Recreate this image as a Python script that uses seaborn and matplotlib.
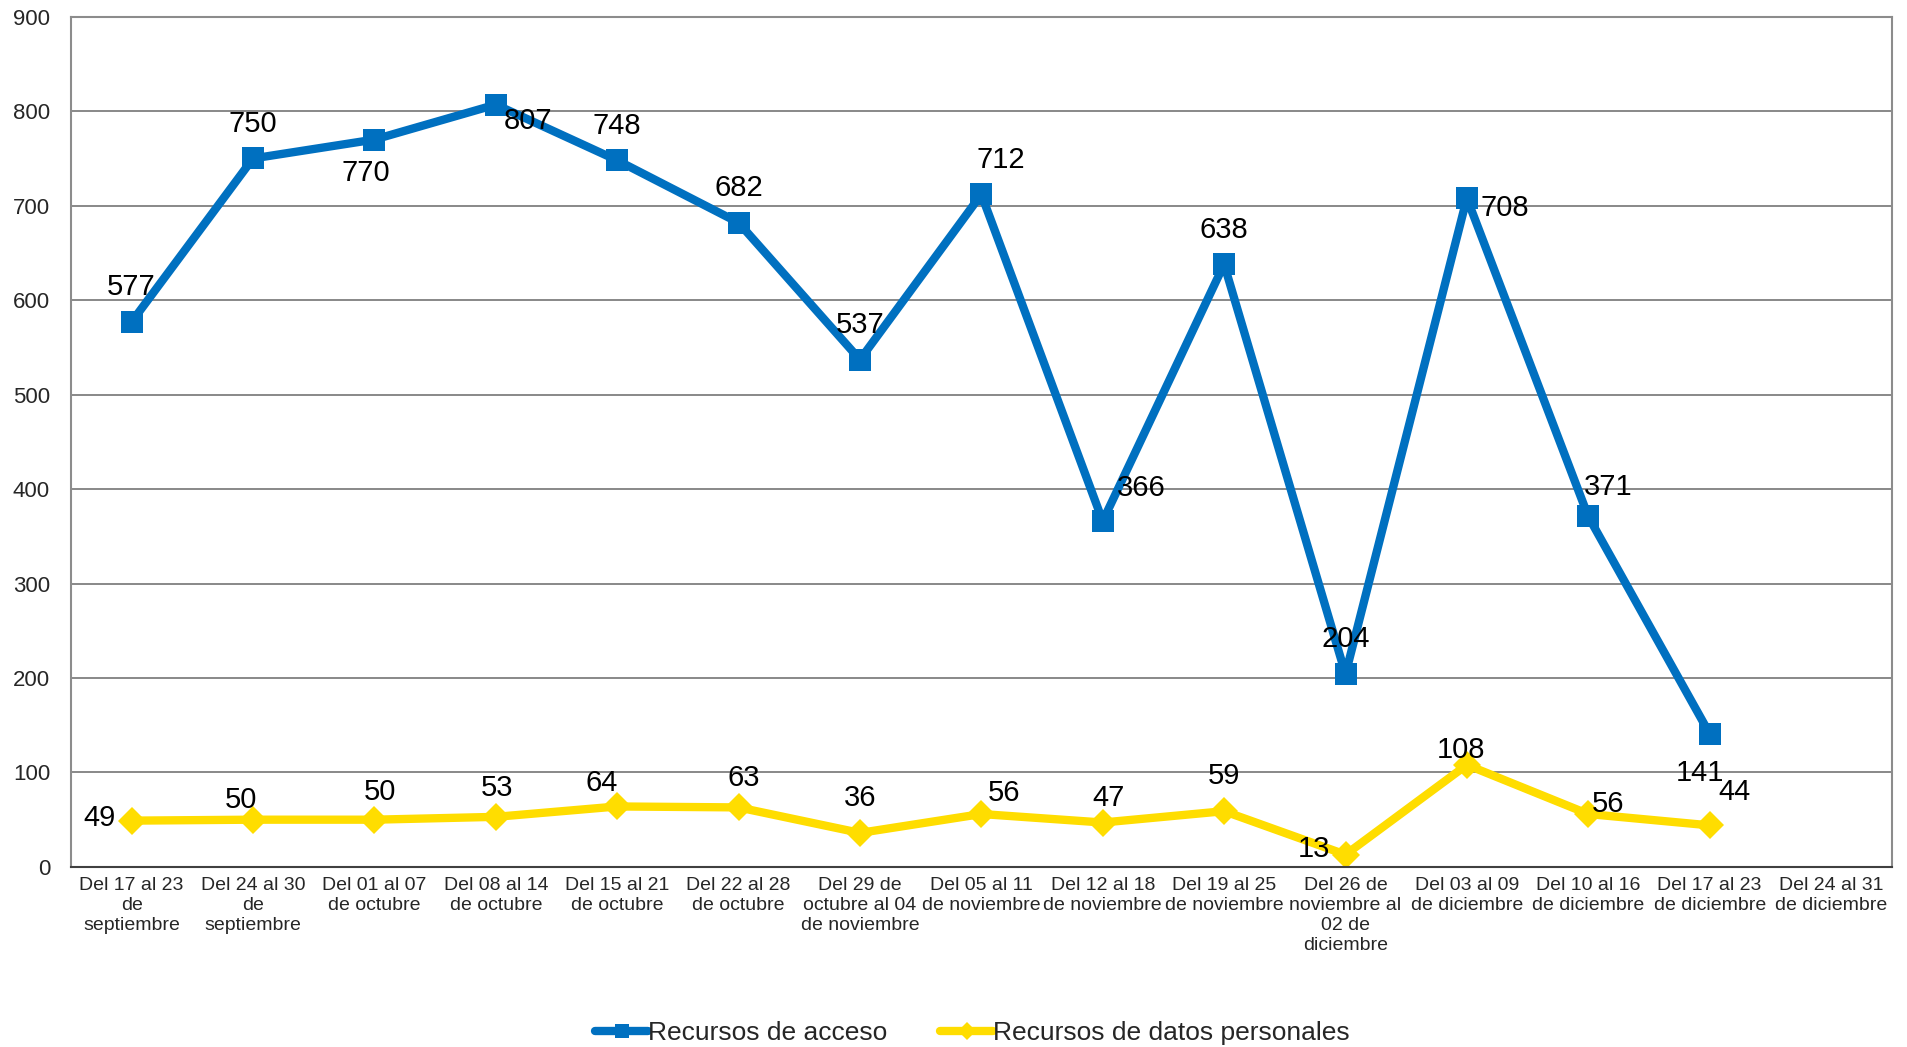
import numpy as np
import pandas as pd
import matplotlib
matplotlib.use("Agg")
import matplotlib.pyplot as plt
import seaborn as sns

# Data
semanas = [
    "Del 17 al 23\nde\nseptiembre", "Del 24 al 30\nde\nseptiembre",
    "Del 01 al 07\nde octubre", "Del 08 al 14\nde octubre",
    "Del 15 al 21\nde octubre", "Del 22 al 28\nde octubre",
    "Del 29 de\noctubre al 04\nde noviembre", "Del 05 al 11\nde noviembre",
    "Del 12 al 18\nde noviembre", "Del 19 al 25\nde noviembre",
    "Del 26 de\nnoviembre al\n02 de\ndiciembre", "Del 03 al 09\nde diciembre",
    "Del 10 al 16\nde diciembre", "Del 17 al 23\nde diciembre",
    "Del 24 al 31\nde diciembre",
]
acceso = [577, 750, 770, 807, 748, 682, 537, 712, 366, 638, 204, 708, 371, 141, np.nan]
datos_personales = [49, 50, 50, 53, 64, 63, 36, 56, 47, 59, 13, 108, 56, 44, np.nan]

# label offsets (points), Excel-style placement
off_acceso = [(0, 25), (0, 25), (-6, -24), (23, -12), (0, 25), (0, 25), (0, 25),
              (14, 25), (28, 24), (0, 25), (0, 25), (27, -7), (14, 21), (-7, -28)]
off_datos = [(-23, 2), (-9, 14), (4, 20), (1, 21), (-11, 17), (4, 21), (0, 25),
             (16, 15), (4, 18), (0, 25), (-23, 4), (-4, 11), (14, 7), (18, 24)]

sns.set_style("white")
plt.rcParams["font.family"] = ["Liberation Sans", "DejaVu Sans"]

x = np.arange(len(semanas))
df = pd.DataFrame({"x": x, "acceso": acceso, "datos": datos_personales})

fig = plt.figure(figsize=(19.07, 10.47), dpi=100)
ax = fig.add_axes([0.0372, 0.172, 0.9548, 0.812])

blue = "#0070C0"
yellow = "#FFDD00"

sns.lineplot(data=df, x="x", y="acceso", ax=ax, color=blue, lw=6,
             marker="s", markersize=16, markeredgewidth=0,
             label="Recursos de acceso")
sns.lineplot(data=df, x="x", y="datos", ax=ax, color=yellow, lw=6,
             marker="D", markersize=14, markeredgewidth=0,
             label="Recursos de datos personales")

for i, v in enumerate(acceso):
    if np.isnan(v):
        continue
    ax.annotate(f"{v:.0f}", (x[i], v), xytext=off_acceso[i], textcoords="offset points",
                ha="center", va="center", fontsize=21, color="black")
for i, v in enumerate(datos_personales):
    if np.isnan(v):
        continue
    ax.annotate(f"{v:.0f}", (x[i], v), xytext=off_datos[i], textcoords="offset points",
                ha="center", va="center", fontsize=21, color="black")

ax.set_xlim(-0.5, len(semanas) - 0.5)
ax.set_ylim(0, 900)
ax.set_yticks(range(0, 901, 100))
ax.set_xticks(x)
ax.set_xticklabels(semanas, fontsize=14, linespacing=1.25)
ax.tick_params(axis="y", labelsize=16, pad=15, length=0)
ax.tick_params(axis="x", pad=7, length=0)
ax.set_xlabel("")
ax.set_ylabel("")

ax.grid(axis="y", color="#7f7f7f", lw=1.3)
ax.grid(axis="x", visible=False)
ax.set_axisbelow(True)
for s in ["left", "right", "top"]:
    ax.spines[s].set_color("#8c8c8c")
    ax.spines[s].set_linewidth(1.5)
ax.spines["bottom"].set_color("#404040")
ax.spines["bottom"].set_linewidth(1.5)

ax.get_legend().remove()
handles, labels = ax.get_legend_handles_labels()
fig.legend(handles, labels, loc="center", bbox_to_anchor=(0.51, 0.013), ncol=2,
           frameon=False, fontsize=19, handlelength=2.0, handletextpad=0.0,
           columnspacing=2.0, markerscale=0.65, borderpad=0.1)

fig.savefig("out.png", dpi=100)
